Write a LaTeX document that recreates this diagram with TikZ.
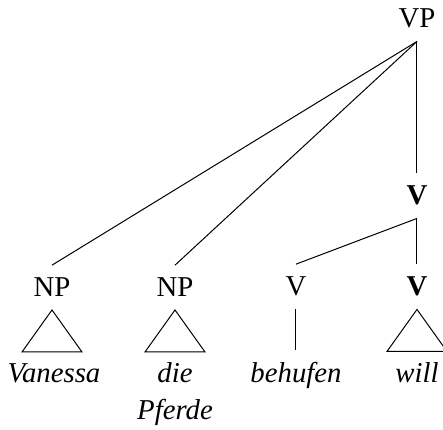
\documentclass[tikz,border=0pt]{standalone}
\usepackage{fontspec}
\setmainfont{Liberation Serif}
\begin{document}
\begin{tikzpicture}[x=0.4pt,y=-0.4pt,
    every node/.style={font=\fontsize{11.5}{14.8}\selectfont,inner xsep=0pt,inner ysep=5pt},
    cat/.style={anchor=base},
    word/.style={anchor=base,font=\fontsize{11.5}{14.8}\selectfont\itshape}]
    \useasboundingbox (0,0) rectangle (443,430);

    \node[cat] (vp)  at (417,28)  {VP};
    \node[cat] (vb)  at (417,205) {\textbf{V}};
    \node[cat] (np1) at (52,297)  {NP};
    \node[cat] (np2) at (175,297) {NP};
    \node[cat] (v2)  at (296,296) {V};
    \node[cat] (v3)  at (417,296) {\textbf{V}};

    \node[word] (w1) at (54,383)  {Vanessa};
    \node[word] (w2) at (175,383) {\begin{tabular}[t]{@{}c@{}}die\\Pferde\end{tabular}};
    \node[word] (w3) at (296,383) {behufen};
    \node[word] (w4) at (417,383) {will};

    \draw (vp.south) -- (np1.north);
    \draw (vp.south) -- (np2.north);
    \draw (vp.south) -- (vb.north);
    \draw (vb.south) -- (v2.north);
    \draw (vb.south) -- (v3.north);

    \draw (np1.south) -- ++(-30,42) -- ++(60,0) -- cycle;
    \draw (np2.south) -- ++(-30,42) -- ++(60,0) -- cycle;
    \draw (v2.south) -- (w3.north);
    \draw (v3.south) -- ++(-30,42) -- ++(60,0) -- cycle;
\end{tikzpicture}
\end{document}
